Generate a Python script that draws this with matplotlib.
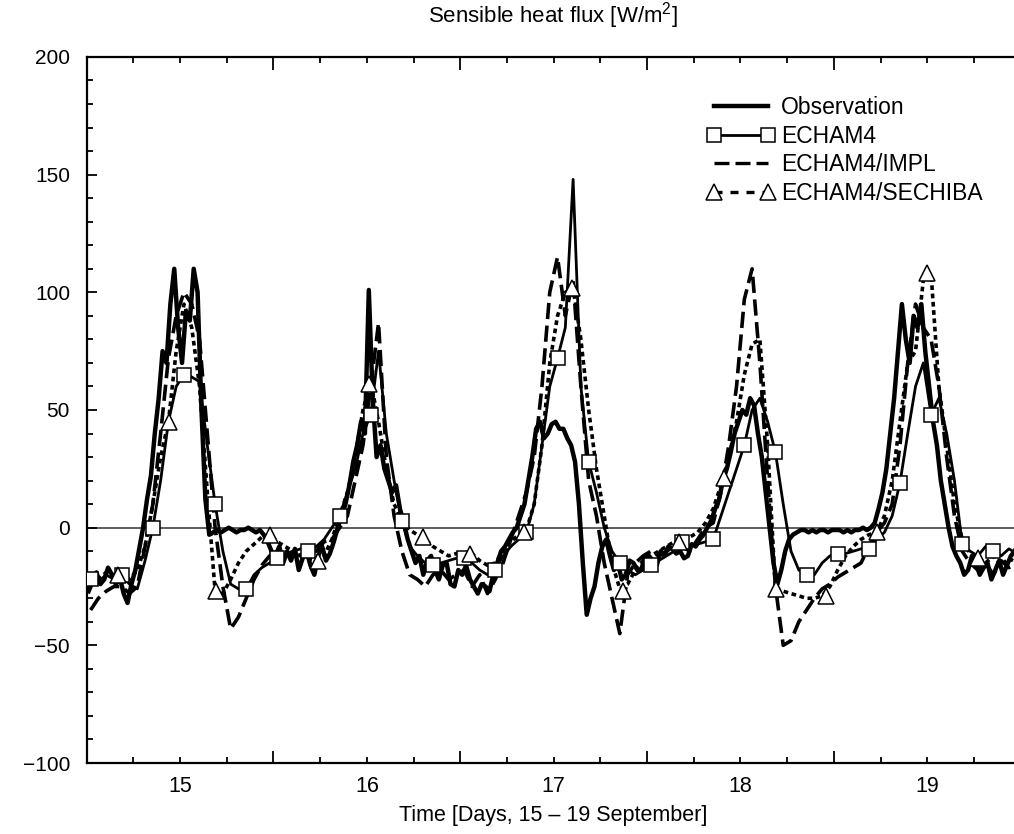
from matplotlib import pyplot as plt
from matplotlib.lines import Line2D
from matplotlib.ticker import FixedLocator, MultipleLocator, FuncFormatter
import numpy as np

plt.rcParams['font.family'] = ['Liberation Sans', 'DejaVu Sans']
plt.rcParams['mathtext.fontset'] = 'custom'
plt.rcParams['mathtext.rm'] = 'Liberation Sans'

# Observation every half hour, models every hour, starting at day 14.5
obs_halfhours = np.arange(240) + 0.5
model_hours = np.arange(121) + 0.5

observation = [
    -27, -23, -19, -24, -22, -17, -20, -24, -21, -28, -32, -24, -18, -9, 0, 12,
    22, 40, 55, 75, 70, 95, 110, 85, 70, 92, 88, 110, 100, 50, 12, -3,
    -2, -1, -2, -1, 0, -1, -2, -1, -1, 0, -1, -2, -1, -3, -6, -10,
    -12, -8, -15, -10, -14, -9, -18, -13, -10, -16, -20, -12, -8, -14, -11, -6,
    0, 5, 10, 18, 28, 35, 45, 40, 101, 55, 30, 35, 25, 20, 15, 18,
    8, 2, -5, -10, -15, -12, -20, -14, -12, -18, -22, -16, -15, -24, -25, -18,
    -20, -16, -22, -25, -28, -24, -25, -27, -20, -15, -10, -8, -5, -2, 0, 5,
    10, 20, 30, 42, 45, 38, 40, 44, 45, 42, 42, 38, 35, 28, 10, -15,
    -37, -30, -25, -15, -8, -5, -12, -18, -15, -22, -20, -14, -15, -18, -18, -12,
    -12, -14, -16, -10, -12, -8, -9, -11, -10, -13, -12, -7, -8, -5, -3, 0,
    3, 8, 12, 20, 25, 32, 40, 45, 50, 48, 55, 52, 40, 30, 15, 0,
    -15, -24, -18, -10, -5, -3, -2, -1, -1, -2, -1, -2, -1, -1, -2, -1,
    -1, -1, -2, -1, -2, -1, -1, 0, -1, 0, 2, 8, 15, 25, 40, 55,
    75, 95, 80, 70, 90, 85, 95, 75, 60, 45, 35, 20, 10, 0, -8, -12,
    -15, -20, -18, -12, -15, -20, -17, -15, -22, -18, -14, -20, -16, -12, -10, -6]

echam4 = [
    -22, -23, -20, -22, -20, -24, -26, -14, 0, 20, 45, 60, 65, 64, 62, 35, 10, -10, -24, -26, -26, -20, -17, -15,
    -13, -12, -10, -9, -10, -8, -5, 0, 5, 15, 25, 40, 48, 75, 40, 20, 3, -8, -12, -15, -16, -15, -14, -13,
    -13, -15, -18, -20, -18, -12, -8, -5, -2, 10, 35, 60, 72, 85, 148, 60, 28, 15, 0, -10, -15, -18, -20, -18,
    -16, -14, -12, -10, -6, -8, -7, -6, -5, 5, 15, 25, 35, 50, 55, 45, 32, 10, -10, -18, -20, -20, -15, -12,
    -11, -11, -10, -9, -9, -5, -2, 5, 19, 40, 60, 70, 48, 55, 40, 20, -7, -10, -12, -8, -10, -12, -9, -11, -10]

echam4_impl = [
    -35, -30, -27, -25, -25, -28, -25, -8, 10, 40, 72, 90, 100, 95, 80, 40, 0, -25, -43, -38, -30, -22, -16, -12,
    -10, -12, -10, -12, -8, -10, -6, -5, 0, 5, 20, 35, 60, 87, 30, 5, -10, -20, -22, -25, -20, -18, -22, -20,
    -18, -25, -20, -28, -22, -15, -5, 5, 15, 30, 60, 100, 115, 90, 105, 60, 20, 5, -15, -30, -45, -20, -15, -12,
    -10, -12, -10, -8, -8, -10, -5, 0, 2, 15, 35, 60, 97, 110, 70, 20, -25, -50, -48, -40, -35, -30, -26, -24,
    -21, -19, -17, -15, -8, -2, 2, 10, 35, 70, 95, 85, 80, 60, 30, 5, -10, -15, -18, -15, -20, -14, -17, -15, -12]

echam4_sechiba = [
    -20, -22, -19, -20, -20, -22, -18, -8, 10, 30, 45, 75, 95, 85, 60, 15, -27, -28, -22, -15, -10, -7, -4, -3,
    -6, -8, -10, -12, -13, -14, -12, -5, 5, 15, 30, 50, 62, 45, 25, 10, 3, -1, -3, -5, -8, -10, -12, -11,
    -11, -11, -14, -16, -15, -10, -6, -3, -1, 10, 35, 70, 90, 100, 102, 80, 50, 25, 5, -15, -26, -24, -18, -14,
    -12, -10, -8, -6, -6, -4, -2, 2, 8, 18, 30, 45, 65, 78, 80, 35, -26, -27, -28, -29, -30, -30, -29, -25,
    -18, -12, -8, -5, -3, -2, 5, 20, 45, 70, 75, 105, 108, 60, 35, 10, -5, -11, -13, -15, -12, -16, -13, -15, -12]

# Triangle markers of ECHAM4/SECHIBA (days, W/m2)
sechiba_mark_days = [14.67, 14.94, 15.19, 15.48, 15.74, 16.01, 16.30, 16.55, 16.84,
                     17.10, 17.37, 17.67, 17.91, 18.19, 18.46, 18.73, 19.00, 19.27]
sechiba_mark_vals = [-20, 45, -27, -3, -14, 61, -4, -11, -2,
                     102, -27, -6, 21, -26, -29, -2, 108, -13]

day_labels = [15, 16, 17, 18, 19]


def sensible_heat_flux_plot():

    obs_days = 14.5 + obs_halfhours / 48.
    days = 14.5 + model_hours / 24.

    figure = plt.figure(figsize=(10.14, 8.34), dpi=100)
    ax = figure.add_axes([0.0855, 0.0851, 0.921, 0.8466])

    ax.axhline(0, color='#303030', linewidth=1.1, zorder=1)

    ax.plot(obs_days, observation, color='black', linewidth=3.2, zorder=3)
    ax.plot(days, echam4_impl, color='black', linewidth=2.6,
            dashes=(4.5, 1.8), zorder=3)
    ax.plot(days, echam4_sechiba, color='black', linewidth=2.6,
            dashes=(1.3, 1.0), zorder=3)
    ax.plot(days, echam4, color='black', linewidth=2.0, marker='s',
            markevery=4, markersize=10, markerfacecolor='white',
            markeredgecolor='black', markeredgewidth=1.1, zorder=4)
    ax.plot(sechiba_mark_days, sechiba_mark_vals, linestyle='none',
            marker='^', markersize=12, markerfacecolor='white',
            markeredgecolor='black', markeredgewidth=1.1, zorder=5)

    ax.set_xlim(14.5, 19.5)
    ax.set_ylim(-100, 200)

    # long ticks at half days, labels at the days
    ax.xaxis.set_major_locator(FixedLocator([14.5, 15.5, 16.5, 17.5, 18.5, 19.5]))
    ax.xaxis.set_major_formatter(FuncFormatter(lambda v, p: ''))
    ax.xaxis.set_minor_locator(MultipleLocator(0.25))
    ax.xaxis.set_minor_formatter(FuncFormatter(
        lambda v, p: '{:.0f}'.format(v) if round(v) in day_labels
        and abs(v - round(v)) < 1e-6 else ''))
    ax.yaxis.set_major_locator(MultipleLocator(50))
    ax.yaxis.set_minor_locator(MultipleLocator(10))

    ax.tick_params(axis='x', which='major', direction='in', length=9,
                   width=1.3, top=True, bottom=True)
    ax.tick_params(axis='x', which='minor', direction='in', length=4,
                   width=1.3, top=True, bottom=True, labelsize=15.5, pad=9)
    ax.tick_params(axis='y', which='major', direction='in', length=7,
                   width=1.3, labelsize=15, pad=12, right=False)
    ax.tick_params(axis='y', which='minor', direction='in', length=4,
                   width=1.3, right=False)
    for side in ['left', 'bottom', 'top']:
        ax.spines[side].set_linewidth(1.6)
    ax.spines['right'].set_visible(False)

    ax.set_xlabel('Time [Days, 15 \u2013 19 September]', fontsize=15.5,
                  labelpad=6)
    figure.text(0.545, 0.981, 'Sensible heat flux [W/m$^2$]', fontsize=16,
                ha='center', va='center')

    handles = [
        Line2D([], [], color='black', linewidth=3.2),
        Line2D([], [], color='black', linewidth=2.0, marker='s',
               markersize=10, markerfacecolor='white', markeredgewidth=1.1),
        Line2D([], [], color='black', linewidth=2.4, dashes=(4.5, 1.8)),
        Line2D([], [], color='black', linewidth=2.4, dashes=(2.4, 2.4),
               marker='^', markersize=12, markerfacecolor='white',
               markeredgewidth=1.1)]
    labels = ['Observation', 'ECHAM4', 'ECHAM4/IMPL', 'ECHAM4/SECHIBA']
    ax.legend(handles, labels, loc='upper left', bbox_to_anchor=(0.664, 0.945),
              frameon=False, fontsize=16.5, numpoints=2, handlelength=2.95,
              handletextpad=0.3, labelspacing=0.25, borderpad=0,
              borderaxespad=0)

    plt.savefig('out.png', dpi=100)
    return None


def main():

    sensible_heat_flux_plot()


if __name__ == "__main__":
    main()
